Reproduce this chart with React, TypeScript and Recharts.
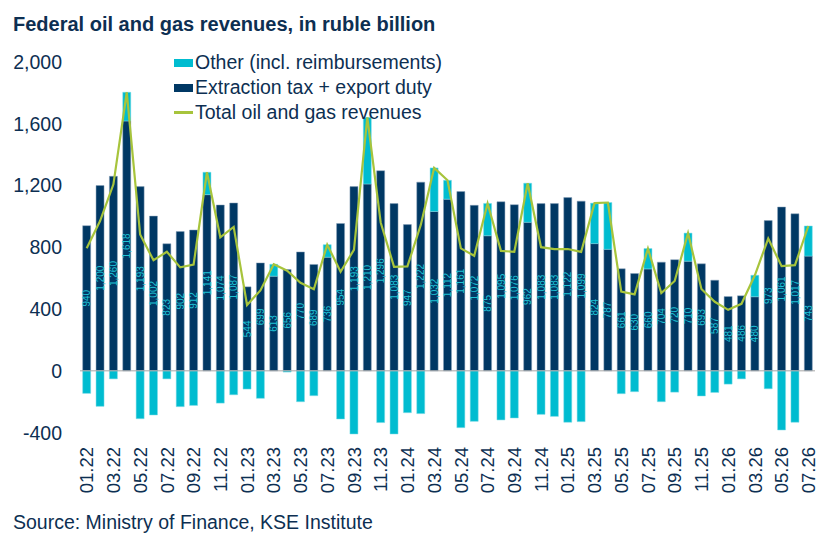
import { ComposedChart, Bar, Line, XAxis, YAxis, ReferenceLine, LabelList } from 'recharts';

const months = [
    '01.22', '02.22', '03.22', '04.22', '05.22', '06.22', '07.22', '08.22', '09.22', '10.22', '11.22', '12.22',
    '01.23', '02.23', '03.23', '04.23', '05.23', '06.23', '07.23', '08.23', '09.23', '10.23', '11.23', '12.23',
    '01.24', '02.24', '03.24', '04.24', '05.24', '06.24', '07.24', '08.24', '09.24', '10.24', '11.24', '12.24',
    '01.25', '02.25', '03.25', '04.25', '05.25', '06.25', '07.25', '08.25', '09.25', '10.25', '11.25', '12.25',
    '01.26', '02.26', '03.26', '04.26', '05.26', '06.26', '07.26',
];

// extraction tax + export duty (labelled values)
const extraction = [
    940, 1200, 1260, 1618, 1193, 1002, 823, 902, 912, 1141, 1074, 1087,
    544, 699, 613, 656, 770, 689, 736, 954, 1193, 1210, 1296, 1083,
    947, 1222, 1032, 1112, 1161, 1072, 875, 1095, 1076, 962, 1083, 1083,
    1122, 1099, 824, 787, 661, 630, 660, 704, 720, 710, 693, 587,
    481, 486, 480, 973, 1061, 1017, 743,
];

// other (incl. reimbursements)
const other = [
    -146, -230, -52, 186, -310, -286, -52, -232, -224, 145, -209, -155,
    -118, -178, 77, -8, -200, -161, 81, -312, -409, 431, -335, -409,
    -271, -277, 282, 122, -368, -327, 209, -318, -305, 253, -282, -295,
    -333, -329, 262, 303, -148, -135, 132, -200, -138, 182, -163, -140,
    -86, -52, 139, -116, -383, -333, 195,
];

// total oil and gas revenues (green line)
const total = [
    794, 970, 1208, 1804, 883, 716, 771, 670, 688, 1286, 865, 932,
    426, 521, 690, 648, 570, 528, 817, 642, 784, 1641, 961, 674,
    676, 945, 1314, 1234, 793, 745, 1084, 777, 771, 1215, 801, 788,
    789, 770, 1086, 1090, 513, 495, 792, 504, 582, 892, 530, 447,
    395, 434, 619, 857, 678, 684, 938,
];

const yTicks = [-400, 0, 400, 800, 1200, 1600, 2000];

const NAVY = '#003864';
const CYAN = '#00bcd0';
const GREEN = '#a7c43c';
const TEXT = '#0d2f52';
const FONT = '"Liberation Sans", Arial, sans-serif';

const data = months.map((m, i) => ({
    month: m,
    extraction: extraction[i],
    other: other[i],
    total: total[i],
}));

function MonthTick({ x, y, payload }: { x?: number; y?: number; payload?: { value: string } }) {
    const ty = (y ?? 0) + 5;
    return (
        <text
            x={x}
            y={ty}
            transform={`rotate(-90, ${x}, ${ty})`}
            textAnchor="end"
            dy="0.36em"
            fontSize={18.5}
            fill={TEXT}
            fontFamily={FONT}
        >
            {payload?.value}
        </text>
    );
}

function ValueLabel(props: { x?: number; y?: number; width?: number; height?: number; value?: number }) {
    const { x = 0, y = 0, width = 0, height = 0, value } = props;
    const cx = x + width / 2;
    const cy = y + height / 2;
    return (
        <text
            x={cx}
            y={cy}
            transform={`rotate(-90, ${cx}, ${cy})`}
            textAnchor="middle"
            dy="0.36em"
            fontSize={10}
            fill="#1fc3d6"
            fontFamily={FONT}
        >
            {Number(value).toLocaleString('en-US')}
        </text>
    );
}

const legendRows = [
    { label: 'Other (incl. reimbursements)', color: CYAN, kind: 'box' },
    { label: 'Extraction tax + export duty', color: NAVY, kind: 'box' },
    { label: 'Total oil and gas revenues', color: GREEN, kind: 'line' },
];

function LegendBox() {
    return (
        <div
            style={{
                position: 'absolute', left: 174, top: 50,
                fontFamily: FONT, fontSize: 19.5, color: TEXT, lineHeight: '25px',
            }}
        >
            {legendRows.map(r => (
                <div key={r.label} style={{ display: 'flex', alignItems: 'center' }}>
                    <span
                        style={{
                            display: 'inline-block',
                            width: 19,
                            height: r.kind === 'box' ? 8 : 2.5,
                            background: r.color,
                            marginRight: 2,
                        }}
                    />
                    <span>{r.label}</span>
                </div>
            ))}
        </div>
    );
}

export default function App() {
    return (
        <div style={{ position: 'relative', width: 828, height: 542, background: '#fff' }}>
            <style>{'body { margin: 0; }'}</style>
            <div
                style={{
                    position: 'absolute', left: 13, top: 14, lineHeight: '20px',
                    fontFamily: FONT, fontWeight: 'bold', fontSize: 20, color: TEXT,
                }}
            >
                Federal oil and gas revenues, in ruble billion
            </div>
            <ComposedChart
                width={828}
                height={542}
                data={data}
                stackOffset="sign"
                barCategoryGap="20%"
                margin={{ top: 62, right: 13, left: 0, bottom: 38 }}
            >
                <XAxis
                    dataKey="month"
                    interval={1}
                    height={70}
                    axisLine={false}
                    tickLine={false}
                    tick={<MonthTick />}
                />
                <YAxis
                    domain={[-400, 2000]}
                    ticks={yTicks}
                    width={80}
                    axisLine={false}
                    tickLine={false}
                    tickMargin={12}
                    tickFormatter={v => Number(v).toLocaleString('en-US')}
                    tick={{ fontSize: 19.5, fill: TEXT, fontFamily: FONT }}
                />
                <Bar dataKey="extraction" stackId="a" fill={NAVY} stroke="#8aa3bb" strokeWidth={0.5} isAnimationActive={false}>
                    <LabelList dataKey="extraction" content={<ValueLabel />} />
                </Bar>
                <Bar dataKey="other" stackId="a" fill={CYAN} stroke="#7fdde6" strokeWidth={0.5} isAnimationActive={false} />
                <ReferenceLine y={0} stroke="#a6a6a6" strokeWidth={1} />
                <Line
                    dataKey="total"
                    type="linear"
                    stroke={GREEN}
                    strokeWidth={2.2}
                    dot={false}
                    activeDot={false}
                    isAnimationActive={false}
                />
            </ComposedChart>
            <LegendBox />
            <div
                style={{
                    position: 'absolute', left: 13, top: 512, lineHeight: '20px',
                    fontFamily: FONT, fontSize: 19.5, color: TEXT,
                }}
            >
                Source: Ministry of Finance, KSE Institute
            </div>
        </div>
    );
}
